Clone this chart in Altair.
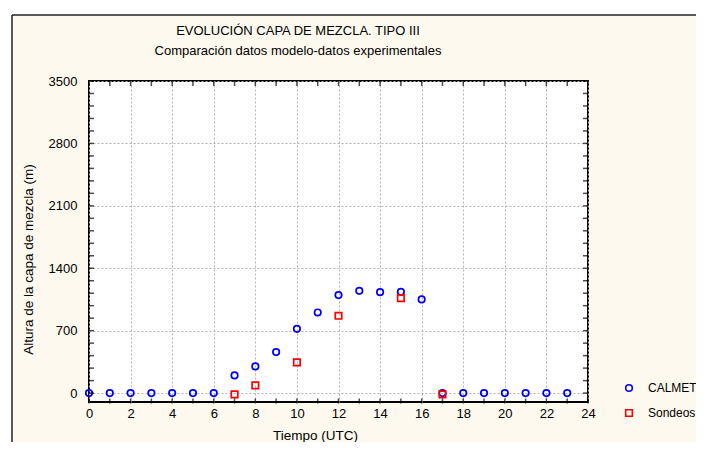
import altair as alt
import pandas as pd

# ---- data ----
calmet_hours = [0, 1, 2, 3, 4, 5, 6, 7, 8, 9, 10, 11, 12, 13, 14, 15, 16, 17, 18, 19, 20, 21, 22, 23]
calmet_vals = [0, 0, 0, 0, 0, 0, 0, 198, 299, 460, 721, 904, 1099, 1147, 1132, 1136, 1050, 0, 0, 0, 0, 0, 0, 0]
sondeos_hours = [7, 8, 10, 12, 15, 17]
sondeos_vals = [-15, 86, 344, 867, 1065, -15]

series_names = ["CALMET", "Sondeos"]
series_colors = ["#0000ff", "#ff0000"]
series_shapes = ["circle", "square"]

x_labels = [0, 2, 4, 6, 8, 10, 12, 14, 16, 18, 20, 22, 24]
x_minor = list(range(0, 25))
y_labels = [0, 700, 1400, 2100, 2800, 3500]
y_minor = list(range(0, 3501, 140))

title_text = "EVOLUCIÓN CAPA DE MEZCLA. TIPO III"
subtitle_text = "Comparación datos modelo-datos experimentales"
x_title = "Tiempo (UTC)"
y_title = "Altura de la capa de mezcla (m)"

FONT = "Liberation Sans, Arial, Helvetica, sans-serif"
CREAM = "#fdf9ee"
W, H = 499, 321

df = pd.DataFrame(
    {"hora": calmet_hours, "altura": calmet_vals, "serie": "CALMET"}
)
df = pd.concat(
    [df, pd.DataFrame({"hora": sondeos_hours, "altura": sondeos_vals, "serie": "Sondeos"})],
    ignore_index=True,
)

xscale = alt.Scale(domain=[0, 24], nice=False, zero=False)
yscale = alt.Scale(domain=[-100, 3500], nice=False, zero=False)

xaxis = alt.Axis(
    values=x_labels, grid=True, ticks=False, domain=False, format="d",
    labelFlush=False, labelOverlap=False,
    title=x_title, titleX=226, titleY=26, titleBaseline="top",
    titleAnchor="middle", labelPadding=5,
)
yaxis = alt.Axis(
    values=y_labels, grid=True, ticks=False, domain=False, format="d",
    labelFlush=False, labelOverlap=False,
    title=y_title, titleX=-61, titleY=178, titleAngle=-90,
    titleAnchor="middle", titleBaseline="middle", labelPadding=12,
)

one = pd.DataFrame({"k": [0]})

# frame of the figure (cream panel with black border)
strip_left = alt.Chart(one).mark_rect(fill="white").encode(
    x=alt.value(-81), x2=alt.value(-77), y=alt.value(-73), y2=alt.value(361)
)
strip_top = alt.Chart(one).mark_rect(fill="white").encode(
    x=alt.value(-81), x2=alt.value(607), y=alt.value(-73), y2=alt.value(-66)
)
frame_v = alt.Chart(one).mark_rule(color="#222222", strokeWidth=1.5).encode(
    x=alt.value(-77), y=alt.value(-66), y2=alt.value(361)
)
frame_h = alt.Chart(one).mark_rule(color="#222222", strokeWidth=1.5).encode(
    x=alt.value(-77), x2=alt.value(607), y=alt.value(-66)
)

leg = dict(
    title=None, orient="none", legendX=534, legendY=301,
    symbolSize=44, symbolStrokeWidth=1.6, labelOffset=13,
    rowPadding=11, padding=0, labelFontSize=12, labelFont=FONT,
    labelColor="black",
)

points = alt.Chart(df).mark_point(filled=False, strokeWidth=1.7, size=42, opacity=1).encode(
    x=alt.X("hora:Q", scale=xscale, axis=xaxis),
    y=alt.Y("altura:Q", scale=yscale, axis=yaxis),
    color=alt.Color(
        "serie:N",
        scale=alt.Scale(domain=series_names, range=series_colors),
        legend=alt.Legend(**leg),
    ),
    shape=alt.Shape(
        "serie:N",
        scale=alt.Scale(domain=series_names, range=series_shapes),
        legend=alt.Legend(**leg),
    ),
)

ydf = pd.DataFrame({"v": y_minor})
xdf = pd.DataFrame({"v": x_minor})
tick_left = alt.Chart(ydf).mark_tick(color="black", size=5, thickness=1.5).encode(
    y=alt.Y("v:Q", scale=yscale, axis=yaxis), x=alt.value(2.5)
)
tick_right = alt.Chart(ydf).mark_tick(color="black", size=5, thickness=1.5).encode(
    y=alt.Y("v:Q", scale=yscale, axis=yaxis), x=alt.value(W - 2.5)
)
tick_top = alt.Chart(xdf).mark_tick(color="black", size=5, thickness=1.5).encode(
    x=alt.X("v:Q", scale=xscale, axis=xaxis), y=alt.value(2.5)
)
tick_bottom = alt.Chart(xdf).mark_tick(color="black", size=5, thickness=1.5).encode(
    x=alt.X("v:Q", scale=xscale, axis=xaxis), y=alt.value(H - 1)
)

titles_df = pd.DataFrame({"t": [title_text]})
subs_df = pd.DataFrame({"t": [subtitle_text]})
title_mark = alt.Chart(titles_df).mark_text(
    font=FONT, fontSize=13, color="black", align="center", baseline="alphabetic"
).encode(text="t:N", x=alt.value(209), y=alt.value(-46))
subtitle_mark = alt.Chart(subs_df).mark_text(
    font=FONT, fontSize=13, color="black", align="center", baseline="alphabetic"
).encode(text="t:N", x=alt.value(209), y=alt.value(-26))

chart = alt.layer(
    strip_left, strip_top, frame_v, frame_h,
    points, tick_left, tick_right, tick_top, tick_bottom,
    title_mark, subtitle_mark,
).properties(
    width=W, height=H,
    autosize=alt.AutoSizeParams(type="none"),
    padding={"left": 81, "top": 73, "right": 108, "bottom": 40},
    background=CREAM,
).configure_view(
    fill="white", stroke="black", strokeWidth=2
).configure_axis(
    labelFont=FONT, labelFontSize=13, labelColor="black",
    titleFont=FONT, titleFontSize=13.5, titleColor="black", titleFontWeight="normal",
    gridColor="#b4b4b4", gridDash=[2, 2], gridWidth=1,
)

chart.save("out.html", embed_options={"renderer": "svg", "actions": False})
